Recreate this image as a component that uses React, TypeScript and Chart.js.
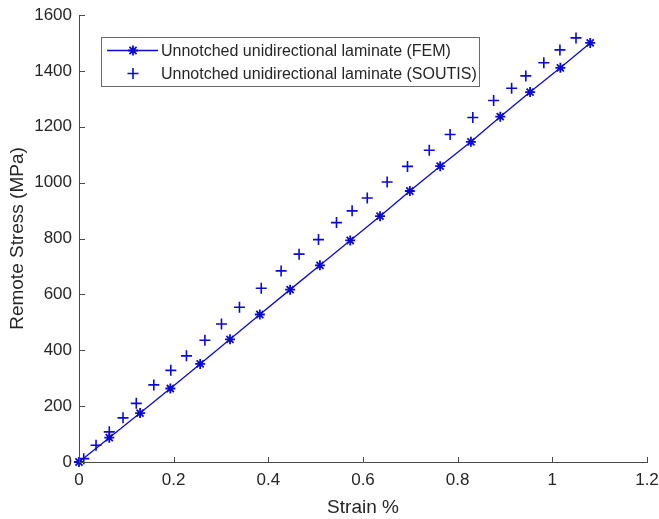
import React, { useEffect, useRef } from "react";
import { Chart, registerables } from "chart.js";

Chart.register(...registerables);

const strainFEM = [0, 0.064, 0.129, 0.193, 0.256, 0.319, 0.382, 0.446, 0.509, 0.573, 0.636, 0.699, 0.763, 0.828, 0.890, 0.953, 1.017, 1.080];
const stressFEM = [0, 87, 175, 263, 351, 439, 528, 617, 704, 793, 880, 970, 1059, 1146, 1236, 1324, 1411, 1500];

const strainSoutis = [0.01, 0.036, 0.064, 0.093, 0.121, 0.158, 0.194, 0.227, 0.266, 0.301, 0.339, 0.385, 0.427, 0.465, 0.506, 0.544, 0.577, 0.609, 0.651, 0.694, 0.740, 0.784, 0.832, 0.876, 0.914, 0.944, 0.982, 1.016, 1.050];
const stressSoutis = [12, 60, 108, 158, 210, 276, 328, 380, 436, 494, 554, 622, 684, 744, 796, 857, 899, 945, 1002, 1058, 1116, 1172, 1233, 1294, 1338, 1382, 1429, 1475, 1518];

const xTicks = [0, 0.2, 0.4, 0.6, 0.8, 1, 1.2];
const xTickLabels = ["0", "0.2", "0.4", "0.6", "0.8", "1", "1.2"];
const yTicks = [0, 200, 400, 600, 800, 1000, 1200, 1400, 1600];
const yTickLabels = ["0", "200", "400", "600", "800", "1000", "1200", "1400", "1600"];

const seriesNames = [
  "Unnotched unidirectional laminate (FEM)",
  "Unnotched unidirectional laminate (SOUTIS)",
];

const FONT = "'Liberation Sans', Arial, Helvetica, sans-serif";
const BLUE = "#0a0ad2";
const AXIS = "#4a4a4a";
const TEXT = "#262626";

const inwardTicks = {
  id: "inwardTicks",
  afterDraw(chart: any) {
    const { ctx, chartArea } = chart;
    const xs = chart.scales.x;
    const ys = chart.scales.y;
    ctx.save();
    ctx.strokeStyle = AXIS;
    ctx.lineWidth = 1;
    ctx.beginPath();
    xTicks.forEach((v) => {
      const px = Math.round(xs.getPixelForValue(v)) + 0.5;
      ctx.moveTo(px, chartArea.bottom);
      ctx.lineTo(px, chartArea.bottom - 5);
    });
    yTicks.forEach((v) => {
      const py = Math.round(ys.getPixelForValue(v)) + 0.5;
      ctx.moveTo(chartArea.left, py);
      ctx.lineTo(chartArea.left + 6, py);
    });
    ctx.stroke();
    ctx.restore();
  },
};

function drawStar(ctx: CanvasRenderingContext2D, x: number, y: number, r: number) {
  const d = r * Math.SQRT1_2;
  ctx.beginPath();
  ctx.moveTo(x - r, y); ctx.lineTo(x + r, y);
  ctx.moveTo(x, y - r); ctx.lineTo(x, y + r);
  ctx.moveTo(x - d, y - d); ctx.lineTo(x + d, y + d);
  ctx.moveTo(x - d, y + d); ctx.lineTo(x + d, y - d);
  ctx.stroke();
}

function drawCross(ctx: CanvasRenderingContext2D, x: number, y: number, r: number) {
  ctx.beginPath();
  ctx.moveTo(x - r, y); ctx.lineTo(x + r, y);
  ctx.moveTo(x, y - r); ctx.lineTo(x, y + r);
  ctx.stroke();
}

const boxLegend = {
  id: "boxLegend",
  afterDraw(chart: any) {
    const { ctx, chartArea } = chart;
    const x0 = chartArea.left + 22;
    const y0 = chartArea.top + 22;
    const w = 378;
    const h = 49;
    ctx.save();
    ctx.fillStyle = "#ffffff";
    ctx.fillRect(x0, y0, w, h);
    ctx.strokeStyle = "#6a6a6a";
    ctx.lineWidth = 1;
    ctx.strokeRect(Math.round(x0) + 0.5, Math.round(y0) + 0.5, w, h);

    const rowY = [y0 + 13.5, y0 + 36.5];
    ctx.strokeStyle = BLUE;
    ctx.lineWidth = 1.3;
    ctx.beginPath();
    ctx.moveTo(x0 + 6, rowY[0]);
    ctx.lineTo(x0 + 57, rowY[0]);
    ctx.stroke();
    ctx.lineWidth = 1.8;
    drawStar(ctx, x0 + 32, rowY[0], 5);
    ctx.lineWidth = 1.6;
    drawCross(ctx, x0 + 32, rowY[1], 5.5);

    ctx.fillStyle = TEXT;
    ctx.font = `16px ${FONT}`;
    ctx.textBaseline = "middle";
    ctx.textAlign = "left";
    seriesNames.forEach((name, i) => {
      ctx.fillText(name, x0 + 60, rowY[i] + 1);
    });
    ctx.restore();
  },
};

export default function App() {
  const canvasRef = useRef<HTMLCanvasElement | null>(null);

  useEffect(() => {
    if (!canvasRef.current) return;
    const chart = new Chart(canvasRef.current, {
      type: "line",
      data: {
        datasets: [
          {
            label: seriesNames[0],
            data: strainFEM.map((x, i) => ({ x, y: stressFEM[i] })),
            borderColor: BLUE,
            backgroundColor: BLUE,
            borderWidth: 1.3,
            pointStyle: "star",
            pointRadius: 5,
            pointBorderWidth: 1.8,
            pointBorderColor: BLUE,
            showLine: true,
            tension: 0,
            clip: false as any,
          },
          {
            label: seriesNames[1],
            data: strainSoutis.map((x, i) => ({ x, y: stressSoutis[i] })),
            borderColor: BLUE,
            backgroundColor: BLUE,
            pointStyle: "cross",
            pointRadius: 5.5,
            pointBorderWidth: 1.6,
            pointBorderColor: BLUE,
            showLine: false,
            clip: false as any,
          },
        ],
      },
      options: {
        responsive: false,
        animation: false,
        devicePixelRatio: 1,
        layout: { padding: { left: 0, top: 15, right: 12, bottom: 0 } },
        plugins: {
          legend: { display: false },
          tooltip: { enabled: false },
        },
        scales: {
          x: {
            type: "linear",
            min: 0,
            max: 1.2,
            afterBuildTicks: (scale: any) => {
              scale.ticks = xTicks.map((v) => ({ value: v }));
            },
            afterFit: (scale: any) => {
              scale.height = 57;
              scale.paddingLeft = 0;
              scale.paddingRight = 0;
            },
            grid: { display: false, drawTicks: false },
            border: { display: true, color: AXIS, width: 1 },
            ticks: {
              padding: 8,
              color: TEXT,
              font: { family: FONT, size: 17 },
              maxRotation: 0,
              callback: (v: any) => {
                const i = xTicks.findIndex((t) => Math.abs(t - Number(v)) < 1e-9);
                return i >= 0 ? xTickLabels[i] : "";
              },
            },
            title: {
              display: true,
              text: "Strain %",
              color: TEXT,
              font: { family: FONT, size: 19 },
              padding: { top: 0, bottom: 0 },
            },
          },
          y: {
            type: "linear",
            min: 0,
            max: 1600,
            afterBuildTicks: (scale: any) => {
              scale.ticks = yTicks.map((v) => ({ value: v }));
            },
            afterFit: (scale: any) => {
              scale.width = 79;
              scale.paddingTop = 0;
              scale.paddingBottom = 0;
            },
            grid: { display: false, drawTicks: false },
            border: { display: true, color: AXIS, width: 1 },
            ticks: {
              padding: 7,
              color: TEXT,
              font: { family: FONT, size: 17 },
              callback: (v: any) => {
                const i = yTicks.indexOf(Number(v));
                return i >= 0 ? yTickLabels[i] : "";
              },
            },
            title: {
              display: true,
              text: "Remote Stress (MPa)",
              color: TEXT,
              font: { family: FONT, size: 19 },
              padding: { top: 6, bottom: 0 },
            },
          },
        },
      },
      plugins: [inwardTicks, boxLegend],
    });
    return () => chart.destroy();
  }, []);

  return (
    <div style={{ position: "fixed", left: 0, top: 0, width: 659, height: 519, background: "#fff" }}>
      <canvas ref={canvasRef} width={659} height={519} style={{ display: "block" }} />
    </div>
  );
}
